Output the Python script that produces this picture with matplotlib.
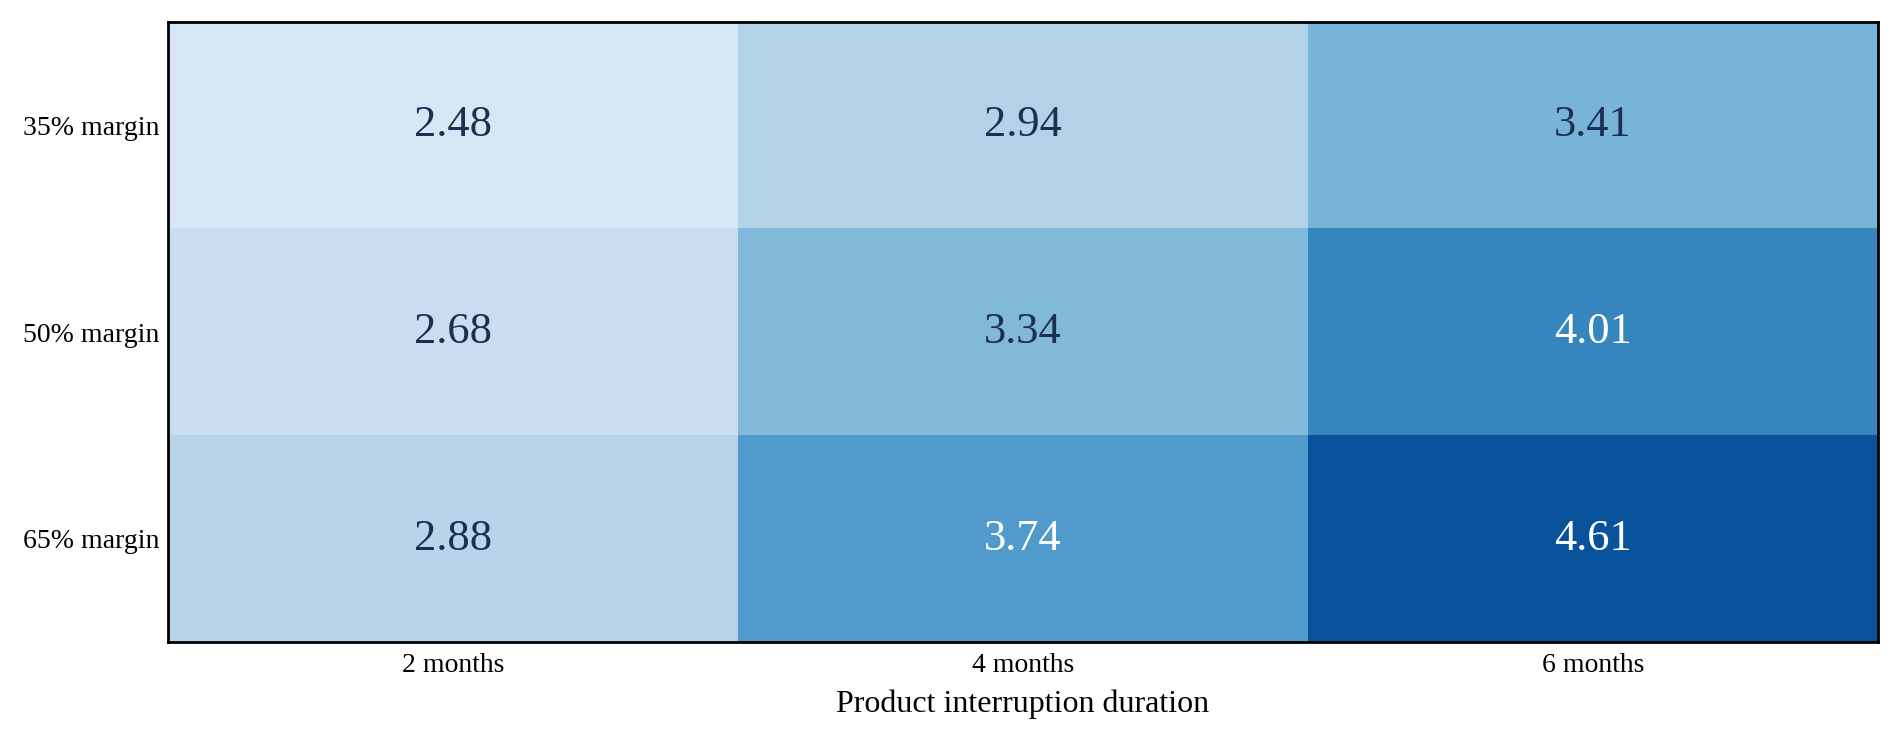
import numpy as np
import matplotlib
matplotlib.use("Agg")
import matplotlib.pyplot as plt

plt.rcParams['font.family'] = ['Liberation Serif', 'DejaVu Serif']

row_labels = ["35% margin", "50% margin", "65% margin"]
col_labels = ["2 months", "4 months", "6 months"]
values_35 = [2.48, 2.94, 3.41]
values_50 = [2.68, 3.34, 4.01]
values_65 = [2.88, 3.74, 4.61]
xlabel = "Product interruption duration"

data = np.array([values_35, values_50, values_65])

fig = plt.figure(figsize=(9.495, 3.71), dpi=200)
ax = fig.add_axes([168/1899, 1 - 642/742, (1878-168)/1899, (642-22)/742])
ax.imshow(data, cmap="Blues", vmin=2.0, vmax=5.0, aspect="auto")

for i in range(data.shape[0]):
    for j in range(data.shape[1]):
        v = data[i, j]
        color = "white" if v > 3.6 else "#1c2f4f"
        ax.text(j, i, f"{v:.2f}", ha="center", va="center", fontsize=16, color=color)

ax.set_xticks(range(len(col_labels)))
ax.set_xticklabels(col_labels, fontsize=10)
ax.set_yticks(range(len(row_labels)))
ax.set_yticklabels(row_labels, fontsize=10)
ax.tick_params(axis='y', length=0, pad=3.2)
ax.tick_params(axis='x', length=0, pad=4.0)
ax.set_xlabel(xlabel, fontsize=11.5, labelpad=4)
for s in ax.spines.values():
    s.set_linewidth(1.0)
    s.set_color("black")

fig.savefig("out.png", dpi=200)
